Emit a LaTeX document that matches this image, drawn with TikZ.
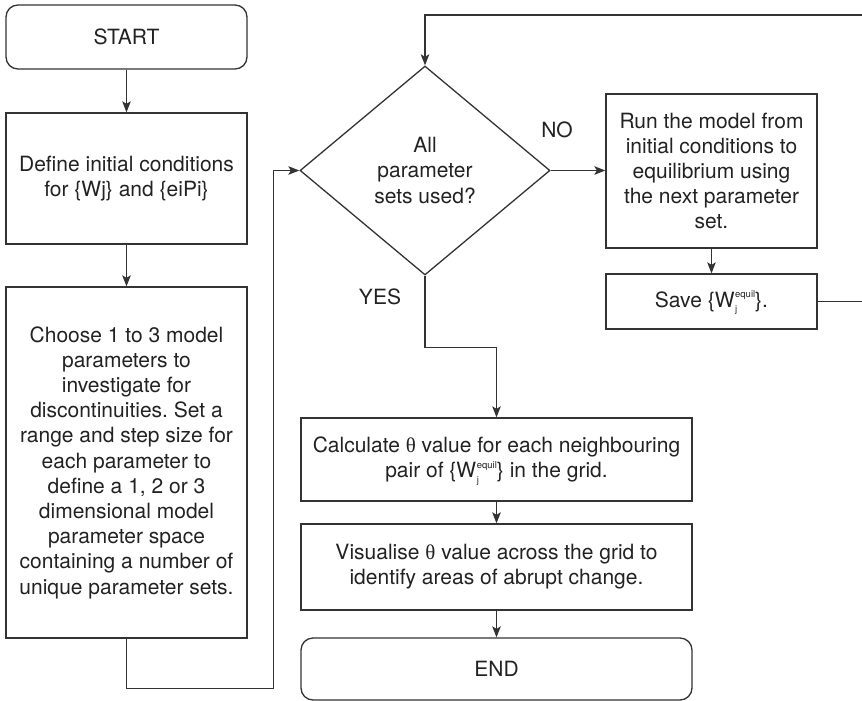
\documentclass[tikz,border=0pt]{standalone}
\usepackage{fontspec}
\setmainfont{TeX Gyre Heros}
\newfontfamily\thetafont{Liberation Serif}
\usetikzlibrary{shapes.geometric,arrows.meta,calc}
\frenchspacing

\definecolor{ink}{HTML}{333333}
\definecolor{txt}{HTML}{222222}

% W_j^{equil} set in text: "equil" stacked over a small j
\newcommand\Wequil{W\kern0.5pt\smash{\raisebox{-5.5pt}{\fontsize{9.5}{15}\selectfont\begin{tabular}[b]{@{}l@{}}equil\\j\end{tabular}}}}
\newcommand\thetachar{{\thetafont θ}}

\begin{document}
\begin{tikzpicture}[x=1pt,y=-1pt,
  every node/.style={font=\fontsize{21}{25.2}\selectfont, text=txt, align=center},
  box/.style={draw=ink, line width=1.3pt, rectangle, inner sep=0pt},
  term/.style={box, rounded corners=12pt},
  decision/.style={draw=ink, line width=1.3pt, diamond, inner sep=0pt},
  flow/.style={draw=ink, line width=1.3pt},
  arr/.style={flow, -{Stealth[length=11pt,width=8.5pt,inset=2.5pt]}},
  lbl/.style={inner sep=0pt}
]
\useasboundingbox (0,0) rectangle (862,701);

% left column
\node[term, minimum width=241pt, minimum height=64pt] (start) at (126.5,37) {START};
\node[box, minimum width=241pt, minimum height=131pt] (define) at (126.5,178.5)
  {Define initial conditions\\for \{Wj\} and \{eiPi\}};
\node[box, minimum width=241pt, minimum height=351pt] (choose) at (126.5,462.5)
  {Choose 1 to 3 model\\parameters to\\investigate for\\discontinuities. Set a\\range and step size for\\each parameter to\\define a 1, 2 or 3\\dimensional model\\parameter space\\containing a number of\\unique parameter sets.};

% decision
\node[decision, minimum width=250pt, minimum height=209pt] (dec) at (425,170.5)
  {All\\parameter\\sets used?};
\node[lbl] (no) at (557,130) {NO};
\node[lbl] (yes) at (380,297) {YES};

% right branch
\node[box, minimum width=211pt, minimum height=154pt] (run) at (711.5,171)
  {Run the model from\\initial conditions to\\equilibrium using\\the next parameter\\set.};
\node[box, minimum width=211pt, minimum height=55pt] (save) at (711.5,301.5)
  {Save \{\Wequil\}.};

% lower branch
\node[box, minimum width=391pt, minimum height=83pt] (calc) at (496.5,459.5)
  {Calculate \thetachar{} value for each neighbouring\\pair of \{\Wequil\} in the grid.};
\node[box, minimum width=391pt, minimum height=86pt] (vis) at (496.5,567)
  {Visualise \thetachar{} value across the grid to\\identify areas of abrupt change.};
\node[term, minimum width=391pt, minimum height=62pt] (end) at (496.5,669) {END};

% loop ends at the right edge
\coordinate (loopT) at (862,15);
\coordinate (loopR) at (862,301.5);

% connectors
\draw[arr] (start) -- (define);
\draw[arr] (define) -- (choose);
\draw[arr] (choose.south) -- ++(0,50) -| ($(dec.west)+(-26,0)$) -- (dec.west);
\draw[arr] (dec.east) -- (dec.east -| run.west);
\draw[arr] (run) -- (save);
\draw[flow] (save.east) -- (loopR);
\draw[arr] (loopT) -- (loopT -| dec.north) -- (dec.north);
\draw[arr] (dec.south) -- ++(0,72) -| (calc.north);
\draw[arr] (calc) -- (vis);
\draw[arr] (vis) -- (end);
\end{tikzpicture}
\end{document}
